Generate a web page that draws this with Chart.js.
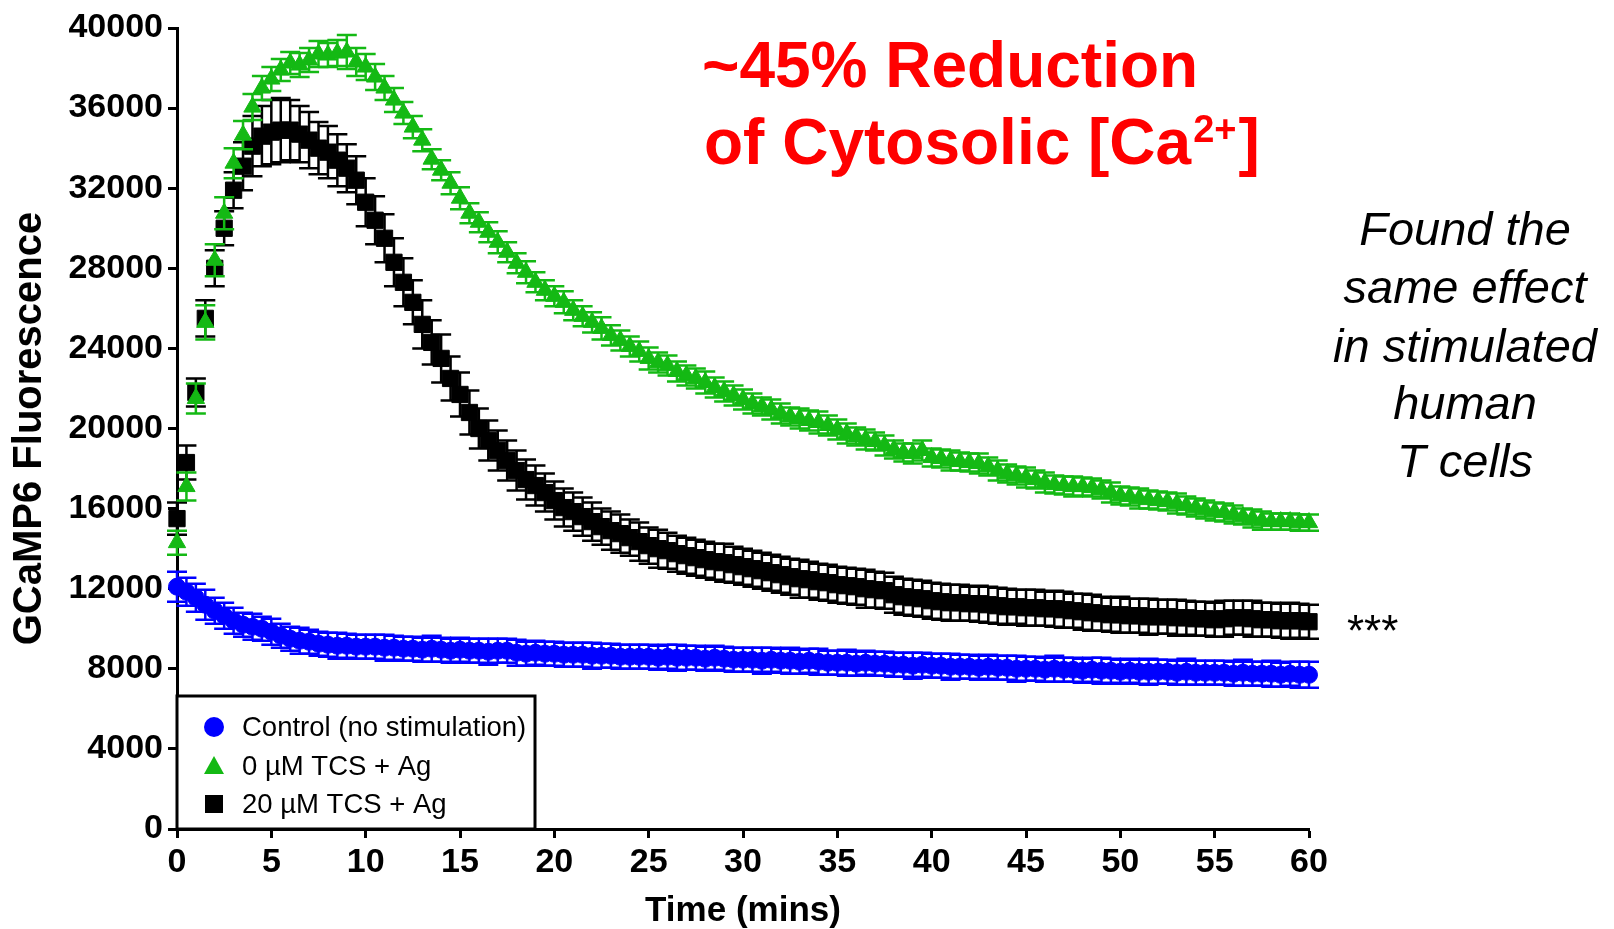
<!DOCTYPE html>
<html>
<head>
<meta charset="utf-8">
<script src="https://cdn.jsdelivr.net/npm/chart.js@4.4.1/dist/chart.umd.min.js"></script>
<style>
  html, body { margin: 0; padding: 0; background: #fff; }
  #wrap { width: 1614px; height: 929px; position: relative; }
</style>
</head>
<body>
<div id="wrap"><canvas id="chart"></canvas></div>
<script>
// time points (mins)
const times = [
  0, 0.5, 1, 1.5, 2, 2.5, 3, 3.5, 4, 4.5,
  5, 5.5, 6, 6.5, 7, 7.5, 8, 8.5, 9, 9.5,
  10, 10.5, 11, 11.5, 12, 12.5, 13, 13.5, 14, 14.5,
  15, 15.5, 16, 16.5, 17, 17.5, 18, 18.5, 19, 19.5,
  20, 20.5, 21, 21.5, 22, 22.5, 23, 23.5, 24, 24.5,
  25, 25.5, 26, 26.5, 27, 27.5, 28, 28.5, 29, 29.5,
  30, 30.5, 31, 31.5, 32, 32.5, 33, 33.5, 34, 34.5,
  35, 35.5, 36, 36.5, 37, 37.5, 38, 38.5, 39, 39.5,
  40, 40.5, 41, 41.5, 42, 42.5, 43, 43.5, 44, 44.5,
  45, 45.5, 46, 46.5, 47, 47.5, 48, 48.5, 49, 49.5,
  50, 50.5, 51, 51.5, 52, 52.5, 53, 53.5, 54, 54.5,
  55, 55.5, 56, 56.5, 57, 57.5, 58, 58.5, 59, 59.5,
  60
];

// Control (no stimulation)
const controlMean = [
  12100, 11850, 11550, 11200, 10900, 10650, 10400, 10200, 10100, 10000,
  9850, 9650, 9500, 9400, 9350, 9250, 9200, 9150, 9150, 9100,
  9100, 9100, 9050, 9050, 9000, 9000, 8950, 9000, 8950, 8900,
  8950, 8900, 8900, 8850, 8900, 8900, 8800, 8750, 8800, 8750,
  8750, 8700, 8700, 8700, 8650, 8650, 8650, 8600, 8600, 8600,
  8600, 8550, 8600, 8550, 8550, 8550, 8500, 8550, 8500, 8450,
  8450, 8450, 8400, 8450, 8400, 8400, 8350, 8400, 8350, 8300,
  8300, 8300, 8250, 8300, 8250, 8250, 8200, 8200, 8150, 8200,
  8150, 8150, 8100, 8100, 8100, 8050, 8100, 8050, 8050, 8000,
  8000, 8000, 7950, 8000, 7950, 7950, 7900, 7950, 7900, 7900,
  7850, 7900, 7850, 7850, 7850, 7850, 7800, 7850, 7800, 7800,
  7800, 7800, 7750, 7800, 7750, 7750, 7750, 7700, 7750, 7700,
  7700
];
const controlSem = [
  750, 700, 700, 750, 650, 650, 650, 600, 650, 600,
  650, 600, 600, 650, 600, 600, 600, 650, 600, 600,
  600, 600, 650, 600, 600, 600, 600, 650, 600, 600,
  600, 600, 600, 650, 600, 600, 650, 600, 600, 600,
  600, 600, 600, 600, 650, 600, 600, 600, 600, 600,
  600, 600, 600, 650, 600, 600, 600, 600, 600, 600,
  600, 600, 650, 600, 600, 650, 600, 600, 650, 600,
  600, 650, 600, 600, 600, 600, 600, 600, 650, 600,
  600, 600, 650, 600, 600, 600, 600, 600, 600, 650,
  600, 600, 600, 650, 600, 600, 600, 600, 650, 600,
  600, 600, 600, 650, 600, 600, 600, 650, 600, 600,
  600, 600, 600, 650, 600, 600, 650, 600, 600, 650,
  650
];

// 0 uM TCS + Ag
const tcs0Mean = [
  14300, 17100, 21500, 25300, 28400, 30750, 33250, 34650, 36050, 37000,
  37450, 37900, 38250, 38150, 38400, 38700, 38650, 38750, 38800, 38300,
  38050, 37550, 37000, 36400, 35750, 35050, 34400, 33450, 32900, 32250,
  31500, 30750, 30300, 29800, 29300, 28800, 28250, 27800, 27300, 26900,
  26600, 26300, 25900, 25600, 25300, 25000, 24650, 24400, 24100, 23850,
  23500, 23300, 23150, 22850, 22650, 22500, 22300, 22050, 21850, 21650,
  21450, 21250, 21100, 20950, 20750, 20600, 20500, 20400, 20300, 20150,
  19950, 19750, 19600, 19450, 19350, 19150, 18950, 18800, 18750, 18900,
  18550, 18500, 18400, 18350, 18300, 18250, 18100, 17900, 17750, 17650,
  17550, 17450, 17300, 17200, 17150, 17100, 17100, 17050, 16950, 16800,
  16650, 16600, 16500, 16450, 16400, 16350, 16250, 16150, 16050, 15950,
  15850, 15800, 15700, 15600, 15500, 15400, 15350, 15350, 15350, 15300,
  15300
];
const tcs0Sem = [
  600, 700, 750, 850, 800, 800, 750, 700, 650, 600,
  600, 550, 550, 600, 600, 650, 600, 650, 850, 700,
  650, 650, 600, 600, 550, 550, 550, 500, 500, 550,
  550, 500, 500, 500, 550, 500, 500, 550, 500, 500,
  500, 550, 500, 500, 500, 550, 500, 500, 500, 500,
  550, 500, 500, 500, 500, 500, 550, 500, 500, 500,
  500, 500, 450, 500, 500, 450, 500, 500, 550, 500,
  500, 500, 450, 500, 450, 500, 450, 450, 500, 500,
  450, 450, 500, 450, 450, 500, 450, 500, 450, 450,
  500, 450, 500, 450, 450, 500, 450, 450, 450, 500,
  450, 450, 500, 450, 450, 450, 500, 450, 450, 450,
  450, 450, 450, 400, 450, 450, 400, 400, 400, 400,
  400
];

// 20 uM TCS + Ag
const tcs20Mean = [
  15500, 18300, 21800, 25500, 28000, 30000, 31900, 33100, 34100, 34600,
  34800, 34900, 34900, 34700, 34400, 34000, 33800, 33400, 33000, 32400,
  31300, 30400, 29500, 28300, 27300, 26300, 25200, 24300, 23500, 22500,
  21700, 20800, 20000, 19400, 18900, 18400, 17900, 17450, 17150, 16800,
  16400, 16050, 15850, 15600, 15350, 15100, 14900, 14750, 14550, 14350,
  14150, 14000, 13900, 13750, 13650, 13550, 13450, 13350, 13300, 13200,
  13100, 13000, 12900, 12800, 12700, 12600, 12500, 12450, 12350, 12300,
  12200, 12150, 12100, 12000, 11950, 11900, 11700, 11600, 11550, 11500,
  11400, 11350, 11300, 11300, 11250, 11250, 11200, 11150, 11100, 11100,
  11050, 11050, 11000, 11000, 10950, 10900, 10850, 10800, 10750, 10700,
  10700, 10650, 10650, 10600, 10600, 10600, 10550, 10550, 10500, 10500,
  10450, 10500, 10550, 10550, 10500, 10450, 10450, 10400, 10400, 10400,
  10350
];
const tcs20Sem = [
  800, 850, 700, 900, 900, 850, 900, 1200, 1500, 1500,
  1600, 1600, 1500, 1400, 1400, 1300, 1300, 1300, 1200, 1200,
  1200, 1200, 1200, 1200, 1200, 1100, 1200, 1100, 1200, 1100,
  1100, 1100, 1000, 1000, 1000, 1000, 1000, 1000, 1000, 950,
  950, 950, 950, 950, 950, 900, 950, 950, 900, 950,
  900, 950, 900, 900, 900, 900, 900, 900, 950, 900,
  900, 900, 900, 900, 900, 900, 950, 900, 900, 900,
  900, 900, 900, 950, 900, 900, 900, 900, 900, 900,
  900, 900, 900, 900, 850, 900, 900, 900, 900, 850,
  900, 900, 850, 900, 900, 850, 900, 900, 850, 850,
  900, 850, 850, 900, 850, 850, 900, 850, 850, 850,
  850, 900, 850, 850, 900, 850, 850, 850, 900, 850,
  850
];

const xTicks = [0, 5, 10, 15, 20, 25, 30, 35, 40, 45, 50, 55, 60];
const yTicks = [0, 4000, 8000, 12000, 16000, 20000, 24000, 28000, 32000, 36000, 40000];

const sans = '"Liberation Sans", Arial, sans-serif';
const blue = '#0000ff';
const green = '#14b914';
const black = '#000000';

function toPoints(vals) {
  return times.map((t, i) => ({ x: t, y: vals[i] }));
}

// vertical SEM bars, drawn just under each dataset's markers
const errorBars = {
  id: 'errorBars',
  beforeDatasetDraw(chart, args) {
    const ds = chart.data.datasets[args.index];
    if (!ds.errors) return;
    const ctx = chart.ctx;
    const ys = chart.scales.y;
    const cap = 10;
    ctx.save();
    ctx.strokeStyle = ds.borderColor;
    ctx.lineWidth = 2.5;
    args.meta.data.forEach((pt, i) => {
      const v = ds.data[i].y;
      const e = ds.errors[i];
      const top = ys.getPixelForValue(v + e);
      const bot = ys.getPixelForValue(v - e);
      ctx.beginPath();
      ctx.moveTo(pt.x, top);
      ctx.lineTo(pt.x, bot);
      ctx.moveTo(pt.x - cap, top);
      ctx.lineTo(pt.x + cap, top);
      ctx.moveTo(pt.x - cap, bot);
      ctx.lineTo(pt.x + cap, bot);
      ctx.stroke();
    });
    ctx.restore();
  }
};

// legend box + the text notes around the plot
const notes = {
  id: 'notes',
  afterDraw(chart) {
    const ctx = chart.ctx;
    ctx.save();

    // legend box in lower-left corner of the plot
    const bx = 177, by = 696, bw = 358, bh = 133;
    ctx.fillStyle = '#fff';
    ctx.fillRect(bx, by, bw, bh);
    ctx.strokeStyle = '#000';
    ctx.lineWidth = 3;
    ctx.strokeRect(bx, by, bw, bh);

    const rows = [727, 766, 804];
    const mx = 214;
    ctx.font = '27.5px ' + sans;
    ctx.textBaseline = 'middle';
    ctx.textAlign = 'left';
    chart.data.datasets.forEach((ds, i) => {
      const y = rows[i];
      ctx.fillStyle = ds.backgroundColor;
      ctx.beginPath();
      if (ds.pointStyle === 'circle') {
        ctx.arc(mx, y, 10, 0, Math.PI * 2);
      } else if (ds.pointStyle === 'triangle') {
        ctx.moveTo(mx, y - 10);
        ctx.lineTo(mx + 10, y + 8);
        ctx.lineTo(mx - 10, y + 8);
        ctx.closePath();
      } else {
        ctx.rect(mx - 9, y - 9, 18, 18);
      }
      ctx.fill();
      ctx.fillStyle = '#000';
      ctx.fillText(ds.label, 242, y + 1);
    });

    // red headline
    ctx.textBaseline = 'alphabetic';
    ctx.fillStyle = '#ff0000';
    ctx.font = 'bold 64px ' + sans;
    ctx.fillText('~45% Reduction', 702, 87);
    const line2 = 'of Cytosolic [Ca';
    ctx.fillText(line2, 704, 164);
    let x = 704 + ctx.measureText(line2).width + 2;
    ctx.font = 'bold 38px ' + sans;
    ctx.fillText('2+', x, 142);
    x += ctx.measureText('2+').width + 2;
    ctx.font = 'bold 64px ' + sans;
    ctx.fillText(']', x, 164);

    // italic note on the right
    ctx.fillStyle = '#000';
    ctx.font = 'italic 47px ' + sans;
    ctx.textAlign = 'center';
    const lines = ['Found the', 'same effect', 'in stimulated', 'human', 'T cells'];
    const base = [245, 303, 362, 419, 477];
    lines.forEach((t, i) => ctx.fillText(t, 1465, base[i]));

    // significance mark
    ctx.textAlign = 'left';
    ctx.font = '44px ' + sans;
    ctx.fillText('***', 1347, 646);

    ctx.restore();
  }
};

new Chart(document.getElementById('chart'), {
  type: 'scatter',
  data: {
    datasets: [
      {
        label: 'Control (no stimulation)',
        data: toPoints(controlMean),
        errors: controlSem,
        pointStyle: 'circle',
        pointRadius: 8.5,
        pointBorderWidth: 1,
        backgroundColor: blue,
        borderColor: blue,
        order: 2,
        clip: false
      },
      {
        label: '0 µM TCS + Ag',
        data: toPoints(tcs0Mean),
        errors: tcs0Sem,
        pointStyle: 'triangle',
        pointRadius: 10,
        pointBorderWidth: 1,
        backgroundColor: green,
        borderColor: green,
        order: 0,
        clip: false
      },
      {
        label: '20 µM TCS + Ag',
        data: toPoints(tcs20Mean),
        errors: tcs20Sem,
        pointStyle: 'rect',
        pointRadius: 11.5,
        pointBorderWidth: 1,
        backgroundColor: black,
        borderColor: black,
        order: 1,
        clip: false
      }
    ]
  },
  options: {
    responsive: true,
    maintainAspectRatio: false,
    animation: false,
    layout: { padding: { left: 0, right: 305, top: 28, bottom: 0 } },
    plugins: {
      legend: { display: false },
      tooltip: { enabled: false }
    },
    scales: {
      x: {
        type: 'linear',
        min: 0,
        max: 60,
        afterFit: (s) => { s.height = 100; },
        afterBuildTicks: (s) => { s.ticks = xTicks.map(v => ({ value: v })); },
        ticks: {
          color: '#000',
          font: { family: sans, size: 34, weight: 'bold' },
          padding: 4,
          maxRotation: 0,
          autoSkip: false,
          callback: (v) => String(v)
        },
        grid: { display: true, drawOnChartArea: false, drawTicks: true, tickLength: 9, tickWidth: 3, tickColor: '#000' },
        border: { display: true, color: '#000', width: 3 },
        title: {
          display: true,
          text: 'Time (mins)',
          color: '#000',
          font: { family: sans, size: 35, weight: 'bold', lineHeight: 1 },
          padding: 0
        }
      },
      y: {
        type: 'linear',
        min: 0,
        max: 40000,
        afterFit: (s) => { s.width = 177; },
        afterBuildTicks: (s) => { s.ticks = yTicks.map(v => ({ value: v })); },
        ticks: {
          color: '#000',
          font: { family: sans, size: 34, weight: 'bold' },
          padding: 5,
          autoSkip: false,
          callback: (v) => String(v)
        },
        grid: { display: true, drawOnChartArea: false, drawTicks: true, tickLength: 9, tickWidth: 3, tickColor: '#000' },
        border: { display: true, color: '#000', width: 3 },
        title: {
          display: true,
          text: 'GCaMP6 Fluorescence',
          color: '#000',
          font: { family: sans, size: 40, weight: 'bold', lineHeight: 1 },
          padding: { top: 10, bottom: 0 }
        }
      }
    }
  },
  plugins: [errorBars, notes]
});
</script>
</body>
</html>
